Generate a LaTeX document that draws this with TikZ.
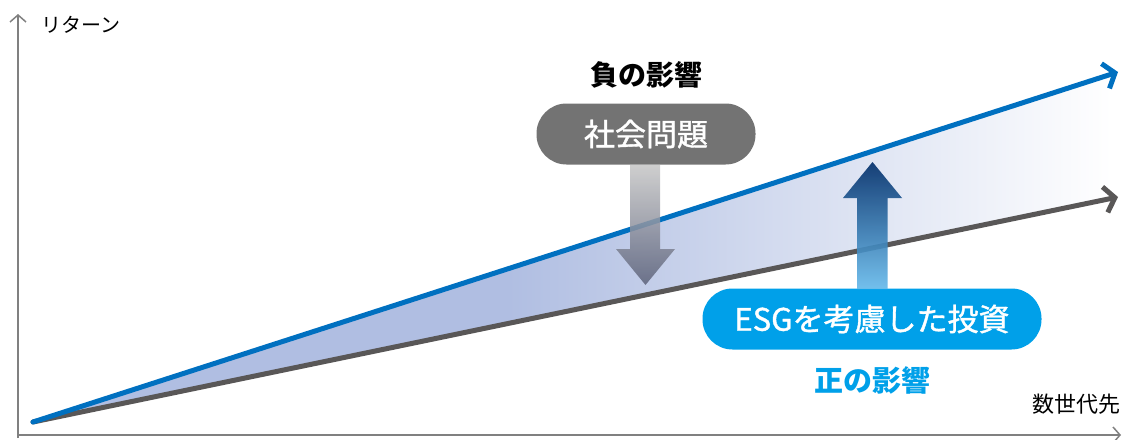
\documentclass[tikz,border=0pt]{standalone}
\usepackage{fontspec}
\setmainfont{Noto Sans CJK JP}
\newfontfamily\jpmid[FakeBold=1.2]{Noto Sans CJK JP}
\usetikzlibrary{arrows.meta}
\definecolor{retblue}{RGB}{0,112,192}
\definecolor{retgray}{RGB}{89,87,87}
\definecolor{axisgray}{RGB}{128,128,128}
\definecolor{bandblue}{RGB}{176,190,226}
\definecolor{boxgray}{RGB}{115,115,115}
\definecolor{esgblue}{RGB}{0,160,233}
\pgfdeclarehorizontalshading{bandfade}{100bp}{color(0bp)=(bandblue); color(47bp)=(bandblue); color(75bp)=(white); color(100bp)=(white)}
\begin{document}
\begin{tikzpicture}[x=1pt,y=-1pt,
    axis/.style={draw=axisgray,line width=1.5pt,-{Straight Barb[length=7pt,width=16pt]}},
    trend/.style={line width=5pt,line cap=round,-{Straight Barb[length=10pt,width=26pt]}},
    pill/.style={rounded corners=30pt,text=white,minimum height=61pt,inner sep=0pt,font=\jpmid\fontsize{31}{31}\selectfont}]
  \useasboundingbox (0,0) rectangle (1123,439);
  \coordinate (O) at (33,422);
  \coordinate (hi) at (1118,72);
  \coordinate (lo) at (1118,197);
  \coordinate (ytop) at (18,14);
  \coordinate (xend) at (1121,435);
  \coordinate (corner) at (18,435);

  \shade[shading=bandfade] (O) -- (1112,74) -- (1112,198) -- cycle;
  \draw[axis] (18,438) -- (ytop);
  \draw[axis] (corner) -- (xend);
  \draw[trend,retgray] (O) -- (lo);
  \draw[trend,retblue] (O) -- (hi);

  \node (ret) at (81,25) {\fontsize{20}{24}\selectfont リターン};
  \node (gen) at (1076,404) {\fontsize{22}{24}\selectfont 数世代先};
  \node (neg) at (646,75) {\fontsize{28}{30}\selectfont\bfseries 負の影響};
  \node[pill,fill=boxgray,minimum width=219pt] (social) at (646,134) {社会問題};
  \node[pill,fill=esgblue,minimum width=339pt] (esg) at (872,319) {ESGを考慮した投資};
  \node[text=esgblue] (pos) at (872,380) {\fontsize{29}{30}\selectfont\bfseries 正の影響};

  \shade[top color=gray!45,bottom color={rgb,255:red,92;green,98;blue,122},fill opacity=0.85]
    (630,165) -- (630,249) -- (616,249) -- (645.5,285) -- (675,249) -- (660,249) -- (660,165) -- cycle;
  \shade[bottom color={rgb,255:red,100;green,185;blue,235},top color={rgb,255:red,0;green,45;blue,105},fill opacity=0.9]
    (857,289) -- (857,198) -- (843,198) -- (872.5,162) -- (902,198) -- (887.5,198) -- (887.5,289) -- cycle;
\end{tikzpicture}
\end{document}
